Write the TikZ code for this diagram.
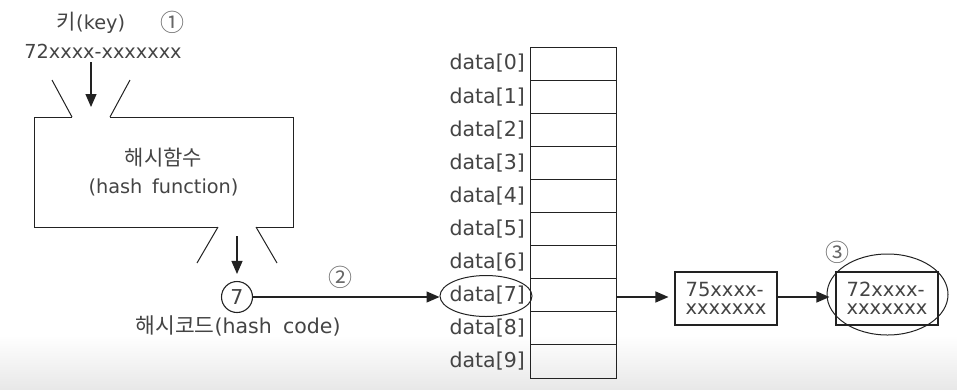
\documentclass[tikz,border=0pt]{standalone}
\usepackage{fontspec}
\setmainfont{DejaVu Sans}
\newfontfamily\kr{Noto Sans CJK KR}
\usetikzlibrary{arrows.meta,shapes.geometric}
\definecolor{txt}{HTML}{444444}
\definecolor{ln}{HTML}{222222}
\tikzset{
  lbl/.style={text=txt,inner sep=0pt,font=\fontsize{20.5}{22}\selectfont},
  sml/.style={text=txt,inner sep=0pt,font=\fontsize{19.3}{21}\selectfont},
  circnum/.style={text=black!60,inner sep=0pt,font=\kr\fontsize{24}{26}\selectfont},
  cell/.style={draw=ln,line width=0.9pt,minimum width=86pt,minimum height=33.1pt,inner sep=0pt,outer sep=0pt},
  rec/.style={draw=ln,line width=1.1pt,minimum width=102pt,minimum height=53pt,inner sep=0pt,text=txt,align=left,font=\fontsize{19.5}{18}\selectfont},
  arr/.style={draw=ln,line width=1.2pt,-{Triangle[length=13pt,width=11pt]}},
  plain/.style={draw=ln,line width=1pt}
}
\begin{document}
\begin{tikzpicture}[x=1pt,y=-1pt]
\useasboundingbox (0,0) rectangle (957,389);
\shade[top color=white,bottom color=black!9] (0,335) rectangle (957,389);
% key
\node[sml] (keylbl) at (91,23) {{\kr\fontsize{21}{22}\selectfont 키}(key)};
\node[circnum] (n1) at (172,22) {①};
\node[sml] (keyval) at (103,51) {72xxxx-xxxxxxx};
% hash function box with funnels
\coordinate (tl) at (34,117);
\coordinate (tr) at (293,117);
\coordinate (br) at (293,227);
\coordinate (bl) at (34,227);
\coordinate (inL) at (72,117);
\coordinate (inR) at (110,117);
\coordinate (outL) at (218,227);
\coordinate (outR) at (256,227);
\draw[plain] (inL) -- (tl) -- (bl) -- (outL);
\draw[plain] (inR) -- (tr) -- (br) -- (outR);
\draw[plain] (inL) -- (52,80);
\draw[plain] (inR) -- (130,80);
\draw[plain] (outL) -- (197,263);
\draw[plain] (outR) -- (277,263);
\node[sml] (hf1) at (163.5,158) {\kr\fontsize{21}{22}\selectfont 해시함수};
\node[sml] (hf2) at (163.5,187) {(hash\hspace{0.5em}function)};
\coordinate (keyarrS) at (91,62);
\coordinate (keyarrE) at (91,107);
\draw[arr] (keyarrS) -- (keyarrE);
% hash code
\node[draw=ln,line width=1.1pt,circle,minimum size=31pt,inner sep=0pt,lbl] (h7) at (237,297) {7};
\coordinate (outS) at (237,236);
\draw[arr,shorten >=7pt] (outS) -- (h7.north);
\node[lbl] (hc) at (238,326) {{\kr\fontsize{21.5}{22}\selectfont 해시코드}(hash\hspace{0.55em}code)};
\node[circnum] (n2) at (340,277) {②};
% table
\foreach \i in {0,...,9}{
  \node[cell] (c\i) at (573,{63.55+33.1*\i}) {};
  \node[lbl,anchor=east] (d\i) at ([xshift=-5pt]c\i.west) {data[\i]};
}
\node[draw=ln,line width=1pt,ellipse,minimum width=92pt,minimum height=41pt,inner sep=0pt] (e7) at (486,296) {};
\draw[arr] (h7.east) -- (h7.east -| e7.west);
% chain
\node[rec] (b1) at (726,298.5) {75xxxx-\\xxxxxxx};
\node[rec] (b2) at (887,298.5) {72xxxx-\\xxxxxxx};
\node[draw=ln,line width=1pt,ellipse,minimum width=121pt,minimum height=81pt,inner sep=0pt] (e2) at (887.5,294.5) {};
\node[circnum] (n3) at (837,252) {③};
\draw[arr,shorten >=6pt] (c7.east |- h7.east) -- (b1.west |- h7.east);
\draw[arr,shorten >=6pt] (b1.east |- h7.east) -- (b2.west |- h7.east);
\end{tikzpicture}
\end{document}
